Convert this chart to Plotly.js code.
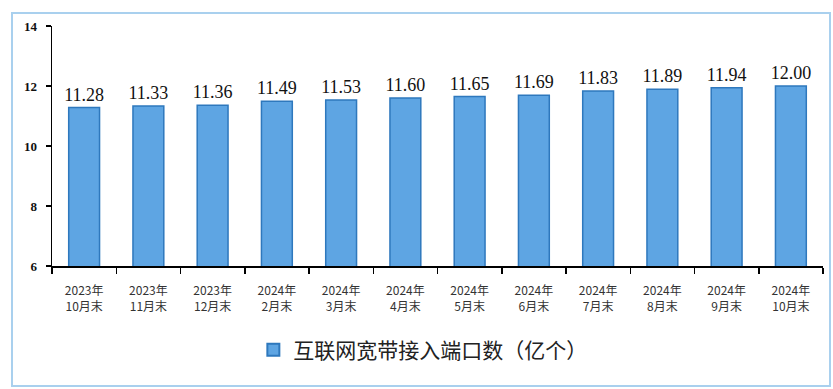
<!DOCTYPE html>
<html>
<head>
<meta charset="utf-8">
<script src="https://cdn.plot.ly/plotly-3.0.1.min.js"></script>
<style>
html,body{margin:0;padding:0;background:#fff;}
#frame{position:absolute;left:11px;top:12px;width:816px;height:371px;border:2px solid #a9d0ee;box-sizing:content-box;pointer-events:none;}
#chart{position:absolute;left:0;top:0;width:833px;height:389px;}
</style>
</head>
<body>
<div id="chart"></div>
<div id="frame"></div>
<script>
const categories = ["2023年<br>10月末","2023年<br>11月末","2023年<br>12月末","2024年<br>2月末","2024年<br>3月末","2024年<br>4月末","2024年<br>5月末","2024年<br>6月末","2024年<br>7月末","2024年<br>8月末","2024年<br>9月末","2024年<br>10月末"];
const ports = [11.28,11.33,11.36,11.49,11.53,11.60,11.65,11.69,11.83,11.89,11.94,12.00];
const seriesName = "互联网宽带接入端口数（亿个）";
const yTicks = [6,8,10,12,14];

const trace = {
  type: "bar",
  x: categories,
  y: ports,
  name: seriesName,
  width: 0.48,
  marker: {color: "#5ea5e3", line: {color: "#2e78bd", width: 1.5}},
  texttemplate: "%{y:.2f}",
  textposition: "outside",
  constraintext: "none",
  cliponaxis: false,
  textfont: {family: "Liberation Serif", size: 18, color: "#111"},
  showlegend: true
};

const layout = {
  width: 833, height: 389,
  margin: {l: 52, r: 10, t: 26, b: 123},
  paper_bgcolor: "rgba(0,0,0,0)",
  plot_bgcolor: "#fff",
  bargap: 0.5,
  xaxis: {
    type: "category",
    tickson: "boundaries",
    ticks: "outside", ticklen: 6, tickcolor: "#000", tickwidth: 1.5,
    showline: true, linecolor: "#000", linewidth: 1.5,
    showgrid: false,
    tickfont: {family: "Noto Sans CJK SC", size: 12, color: "#333"},
    tickangle: 0,
    ticklabelstandoff: 13
  },
  yaxis: {
    range: [6, 14],
    tickvals: yTicks,
    ticks: "outside", ticklen: 5, tickcolor: "#000", tickwidth: 1.5,
    showline: true, linecolor: "#000", linewidth: 1.5,
    showgrid: false, zeroline: false,
    tickfont: {family: "Liberation Serif", size: 13, color: "#111", weight: 700},
    ticklabelstandoff: 6
  },
  showlegend: true,
  legend: {
    orientation: "h",
    x: 0.481, xanchor: "center",
    y: -0.35, yanchor: "middle",
    font: {family: "Noto Sans CJK SC", size: 21, color: "#222"},
    itemsizing: "constant"
  }
};

Plotly.newPlot("chart", [trace], layout, {displayModeBar: false, staticPlot: true});
</script>
</body>
</html>
